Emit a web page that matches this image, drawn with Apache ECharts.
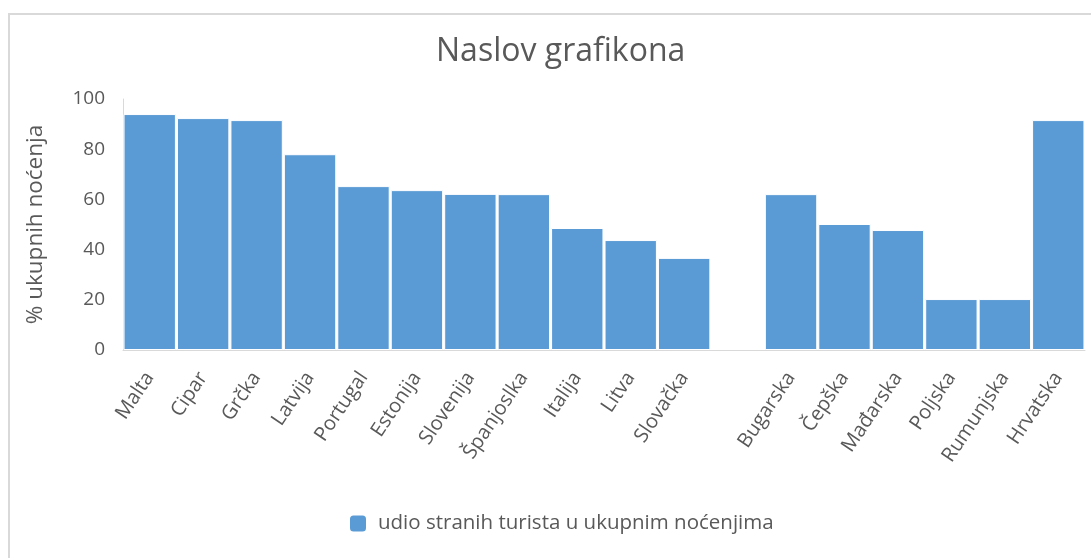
<!DOCTYPE html>
<html>
<head>
<meta charset="utf-8">
<script src="https://cdn.jsdelivr.net/npm/echarts@6/dist/echarts.min.js"></script>
<style>
  html, body { margin: 0; padding: 0; background: #fff; }
  #main { width: 1091px; height: 558px; }
</style>
</head>
<body>
<div id="main"></div>
<script>
// kategorije (prazno mjesto između Slovačke i Bugarske)
const categories = ['Malta', 'Cipar', 'Grčka', 'Latvija', 'Portugal', 'Estonija', 'Slovenija',
  'Španjoslka', 'Italija', 'Litva', 'Slovačka', '', 'Bugarska', 'Čepška', 'Mađarska',
  'Poljska', 'Rumunjska', 'Hrvatska'];
const udioStranih = [94, 92.4, 91.6, 78, 65.3, 63.7, 62.2, 62.1, 48.6, 43.8, 36.7, null,
  62.1, 50.2, 47.8, 20.3, 20.3, 91.6];
const yTicks = [0, 20, 40, 60, 80, 100];

const chart = echarts.init(document.getElementById('main'));
const font = '"Open Sans", Lato, sans-serif';

const option = {
  animation: false,
  textStyle: { fontFamily: font },
  graphic: [{
    type: 'rect',
    shape: { x: 9, y: 14, width: 1200, height: 700 },
    style: { fill: 'none', stroke: '#d9d9d9', lineWidth: 2 },
    silent: true
  }],
  title: {
    text: 'Naslov grafikona',
    left: 431,
    top: 31,
    textStyle: { fontFamily: font, fontSize: 32, fontWeight: 'normal', color: '#595959' }
  },
  legend: {
    left: 343,
    top: 508,
    itemWidth: 18,
    itemHeight: 18,
    itemGap: 10,
    textStyle: { fontFamily: font, fontSize: 20.5, color: '#595959', padding: [0, 0, 0, 6] },
    data: ['udio stranih turista u ukupnim noćenjima']
  },
  grid: { left: 123, right: 6, top: 99, bottom: 208, containLabel: false },
  xAxis: {
    type: 'category',
    data: categories,
    axisLine: { lineStyle: { color: '#d9d9d9', width: 1 } },
    axisTick: { show: false },
    axisLabel: {
      interval: 0,
      rotate: 56,
      margin: 24,
      fontFamily: font,
      fontSize: 20,
      color: '#595959'
    }
  },
  yAxis: {
    type: 'value',
    min: yTicks[0],
    max: yTicks[yTicks.length - 1],
    interval: 20,
    name: '% ukupnih noćenja',
    nameLocation: 'middle',
    nameGap: 76,
    nameTextStyle: { fontFamily: font, fontSize: 22.5, color: '#595959' },
    axisLine: { show: true, lineStyle: { color: '#d9d9d9' } },
    axisTick: { show: false },
    splitLine: { show: false },
    axisLabel: { fontFamily: font, fontSize: 19, color: '#595959', margin: 18 }
  },
  series: [{
    name: 'udio stranih turista u ukupnim noćenjima',
    type: 'bar',
    data: udioStranih,
    barCategoryGap: '2%',
    itemStyle: { color: '#5b9bd5', borderColor: '#ffffff', borderWidth: 1 }
  }]
};

chart.setOption(option);
</script>
</body>
</html>
